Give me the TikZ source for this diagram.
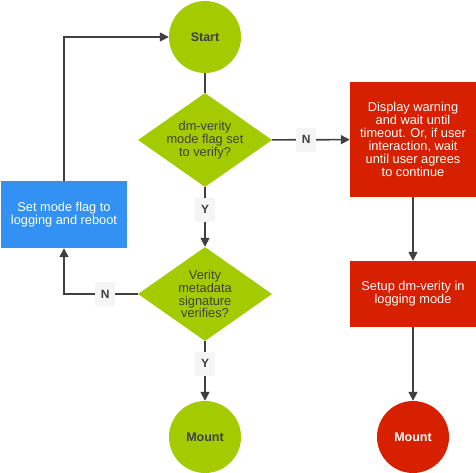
\documentclass[tikz,border=0pt]{standalone}
\usepackage{fontspec}
\setmainfont{Liberation Sans}
\usepackage{xcolor}
\usepackage{tikz}
\usetikzlibrary{positioning,shapes.geometric,arrows.meta,calc}
\definecolor{limeg}{RGB}{164,202,0}
\definecolor{warnred}{RGB}{214,32,0}
\definecolor{actblue}{RGB}{50,145,242}
\definecolor{inkgray}{RGB}{64,64,64}
\definecolor{tagfill}{RGB}{245,245,245}

\begin{document}
\begin{tikzpicture}[
    x=1pt,
    y=-1pt,
    font=\fontsize{12.8}{12.9}\selectfont,
    term/.style={
        circle,
        fill=limeg,
        text=inkgray,
        minimum size=72pt,
        inner sep=0pt,
        font=\fontsize{12.5}{13}\selectfont\bfseries
    },
    stopterm/.style={
        term,
        fill=warnred,
        text=white
    },
    decide/.style={
        diamond,
        shape aspect=1.45,
        fill=limeg,
        text=inkgray,
        minimum width=134pt,
        minimum height=94pt,
        inner sep=0pt,
        align=center
    },
    actbox/.style={
        rectangle,
        fill=actblue,
        text=white,
        minimum width=126pt,
        minimum height=67pt,
        align=center
    },
    warnbox/.style={
        rectangle,
        fill=warnred,
        text=white,
        minimum width=126pt,
        inner sep=0pt,
        align=center
    },
    tag/.style={
        fill=tagfill,
        text=inkgray,
        font=\fontsize{12}{13}\selectfont\bfseries,
        minimum width=20pt,
        minimum height=24pt,
        inner sep=1pt
    },
    arr/.style={-{Triangle[length=9pt,width=9pt]}, draw=inkgray, line width=1.6pt},
    ln/.style={draw=inkgray, line width=1.6pt}
]
\useasboundingbox (0,0) rectangle (476,473);

% main column
\node[term] (start) at (205,37) {Start};
\node[decide] (mode) at (205,140) {dm-verity\\mode flag set\\to verify?};
\node[decide] (sig) at (205,294) {Verity\\metadata\\signature\\verifies?};
\node[term] (mount) at (205,437) {Mount};

% left branch
\node[actbox] (reboot) at (64,214.5) {Set mode flag to\\logging and reboot};

% right branch
\node[warnbox, minimum height=115pt] (warn) at (413,139.5)
{Display warning\\and wait until\\timeout. Or, if user\\interaction, wait\\until user agrees\\to continue};
\node[warnbox, minimum height=66pt] (logmode) at (413,294) {Setup dm-verity in\\logging mode};
\node[stopterm] (mountlog) at (413,437) {Mount};

\draw[ln] (start) -- (mode);
\draw[arr] (mode) -- node[tag, pos=0.38] {Y} (sig);
\draw[arr] (sig) -- node[tag, pos=0.38] {Y} (mount);
\draw[arr] (mode) -- node[tag, pos=0.44] {N} (warn);
\draw[arr] (sig.west) -| node[tag, pos=0.22] {N} (reboot.south);
\draw[arr] (reboot.north) |- (start.west);
\draw[arr] (warn) -- (logmode);
\draw[arr] (logmode) -- (mountlog);

\end{tikzpicture}
\end{document}
